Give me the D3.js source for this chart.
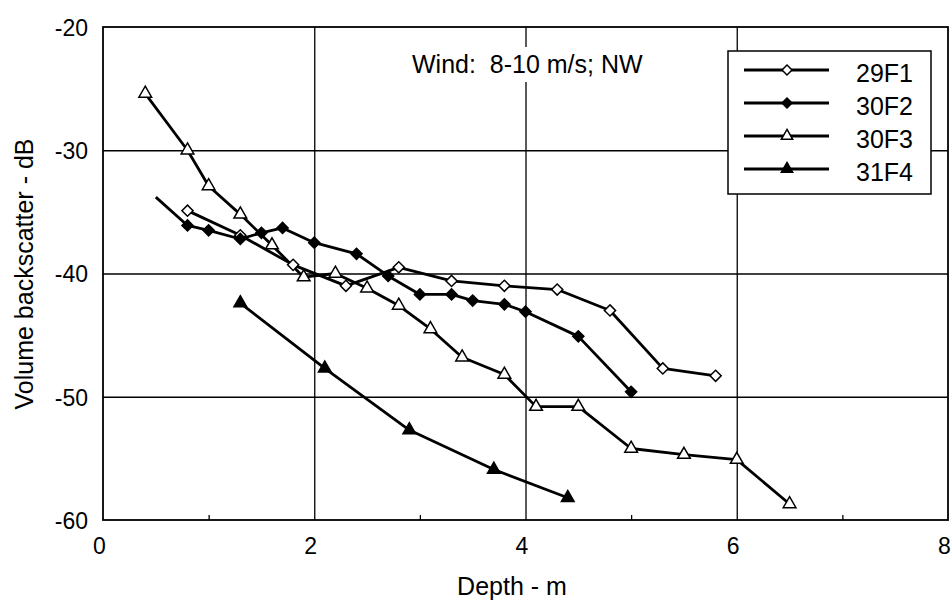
<!DOCTYPE html>
<html>
<head>
<meta charset="utf-8">
<script src="https://cdn.jsdelivr.net/npm/d3@7"></script>
<style>
  body { margin: 0; background: #fff; }
  svg text { font-family: "Liberation Sans", Arial, Helvetica, sans-serif; fill: #000; }
</style>
</head>
<body>
<div id="chart"></div>
<script>
// data (depth in m, volume backscatter in dB)
var depth29F1 = [0.8, 1.3, 1.8, 2.3, 2.8, 3.3, 3.8, 4.3, 4.8, 5.3, 5.8];
var vb29F1    = [-34.9, -36.9, -39.3, -41.0, -39.5, -40.6, -41.0, -41.3, -43.0, -47.7, -48.3];

var depth30F2 = [0.5, 0.8, 1.0, 1.3, 1.5, 1.7, 2.0, 2.4, 2.7, 3.0, 3.3, 3.5, 3.8, 4.0, 4.5, 5.0];
var vb30F2    = [-33.8, -36.1, -36.5, -37.2, -36.7, -36.3, -37.5, -38.4, -40.2, -41.7, -41.7, -42.2, -42.5, -43.1, -45.1, -49.6];

var depth30F3 = [0.4, 0.8, 1.0, 1.3, 1.6, 1.9, 2.2, 2.5, 2.8, 3.1, 3.4, 3.8, 4.1, 4.5, 5.0, 5.5, 6.0, 6.5];
var vb30F3    = [-25.4, -30.0, -32.9, -35.2, -37.7, -40.3, -40.0, -41.2, -42.6, -44.5, -46.8, -48.2, -50.8, -50.8, -54.2, -54.7, -55.1, -58.7];

var depth31F4 = [1.3, 2.1, 2.9, 3.7, 4.4];
var vb31F4    = [-42.4, -47.7, -52.7, -55.9, -58.2];

var seriesNames = ["29F1", "30F2", "30F3", "31F4"];
var xTicks = [0, 2, 4, 6, 8];
var xMinor = [1, 3, 5, 7];
var yTicks = [-60, -50, -40, -30, -20];

var W = 952, H = 603;
// plot box (pixels)
var box = { left: 103, right: 948, top: 27, bottom: 520 };

var svg = d3.select("#chart").append("svg")
    .attr("width", W)
    .attr("height", H);

var x = d3.scaleLinear().domain([0, 8]).range([box.left, box.right]);
var y = d3.scaleLinear().domain([-60, -20]).range([box.bottom, box.top]);

// grid
svg.append("g")
    .attr("transform", "translate(0," + box.bottom + ")")
    .call(d3.axisBottom(x).tickValues([2, 4, 6]).tickSize(-(box.bottom - box.top)).tickFormat(""))
    .call(g => g.select(".domain").remove())
    .selectAll("line").attr("stroke", "#000").attr("stroke-width", 1.3);

svg.append("g")
    .attr("transform", "translate(" + box.left + ",0)")
    .call(d3.axisLeft(y).tickValues([-50, -40, -30]).tickSize(-(box.right - box.left)).tickFormat(""))
    .call(g => g.select(".domain").remove())
    .selectAll("line").attr("stroke", "#000").attr("stroke-width", 1.3);

// small inward ticks on the depth axis
svg.append("g")
    .attr("transform", "translate(0," + box.bottom + ")")
    .call(d3.axisBottom(x).tickValues(xMinor).tickSize(-5).tickFormat(""))
    .call(g => g.select(".domain").remove())
    .selectAll("line").attr("stroke", "#000").attr("stroke-width", 1.3);

// tick labels
var gx = svg.append("g")
    .attr("transform", "translate(0," + box.bottom + ")")
    .call(d3.axisBottom(x).tickValues(xTicks).tickSize(0).tickPadding(18).tickFormat(d => d));
gx.select(".domain").remove();
gx.attr("font-size", 23).attr("font-family", null);
gx.selectAll("text").attr("dx", -4);

var gy = svg.append("g")
    .attr("transform", "translate(" + box.left + ",0)")
    .call(d3.axisLeft(y).tickValues(yTicks).tickSize(0).tickPadding(15).tickFormat(d => d));
gy.select(".domain").remove();
gy.attr("font-size", 23).attr("font-family", null);
gy.selectAll("text").attr("dy", "0.36em");

// frame
svg.append("rect")
    .attr("x", box.left).attr("y", box.top)
    .attr("width", box.right - box.left).attr("height", box.bottom - box.top)
    .attr("fill", "none").attr("stroke", "#000").attr("stroke-width", 1.8);

// axis titles
svg.append("text")
    .attr("x", 512).attr("y", 595)
    .attr("text-anchor", "middle")
    .attr("font-size", 25)
    .text("Depth - m");

svg.append("text")
    .attr("transform", "translate(33,274) rotate(-90)")
    .attr("text-anchor", "middle")
    .attr("font-size", 25)
    .text("Volume backscatter - dB");

// wind note, white behind it so the grid line breaks
svg.append("rect")
    .attr("x", 405).attr("y", 47).attr("width", 245).attr("height", 35)
    .attr("fill", "#fff");
svg.append("text")
    .attr("x", 412).attr("y", 73)
    .attr("font-size", 25)
    .attr("xml:space", "preserve")
    .text("Wind:  8-10 m/s; NW");

// series
var series = [
  { name: seriesNames[0], xs: depth29F1, ys: vb29F1, shape: d3.symbolSquare, rot: 45, fill: "#fff", size: 62, skip: 0 },
  { name: seriesNames[1], xs: depth30F2, ys: vb30F2, shape: d3.symbolSquare, rot: 45, fill: "#000", size: 62, skip: 1 },
  { name: seriesNames[2], xs: depth30F3, ys: vb30F3, shape: d3.symbolTriangle, rot: 0, fill: "#fff", size: 70, skip: 0 },
  { name: seriesNames[3], xs: depth31F4, ys: vb31F4, shape: d3.symbolTriangle, rot: 0, fill: "#000", size: 70, skip: 0 }
];

var line = d3.line().x(d => x(d[0])).y(d => y(d[1]));

series.forEach(function(s) {
  var pts = s.xs.map((v, i) => [v, s.ys[i]]);
  svg.append("path")
      .attr("d", line(pts))
      .attr("fill", "none")
      .attr("stroke", "#000")
      .attr("stroke-width", 2.8)
      .attr("stroke-linejoin", "round");
});

series.forEach(function(s) {
  var pts = s.xs.map((v, i) => [v, s.ys[i]]).slice(s.skip);
  svg.selectAll(null)
      .data(pts)
      .enter().append("path")
      .attr("d", d3.symbol().type(s.shape).size(s.size))
      .attr("transform", d => "translate(" + x(d[0]) + "," + y(d[1]) + ") rotate(" + s.rot + ")")
      .attr("fill", s.fill)
      .attr("stroke", "#000")
      .attr("stroke-width", 1.5);
});

// legend
var lg = svg.append("g");
lg.append("rect")
    .attr("x", 728).attr("y", 51).attr("width", 203).attr("height", 143)
    .attr("fill", "#fff").attr("stroke", "#000").attr("stroke-width", 1.5);

var rows = lg.selectAll("g.row")
    .data(series)
    .enter().append("g")
    .attr("class", "row")
    .attr("transform", (d, i) => "translate(0," + (70 + i * 33) + ")");

rows.append("line")
    .attr("x1", 744).attr("x2", 829)
    .attr("stroke", "#000").attr("stroke-width", 2.8);

rows.append("path")
    .attr("d", d => d3.symbol().type(d.shape).size(d.size * 0.8)())
    .attr("transform", d => "translate(787,0) rotate(" + d.rot + ")")
    .attr("fill", d => d.fill)
    .attr("stroke", "#000")
    .attr("stroke-width", 1.5);

rows.append("text")
    .attr("x", 856).attr("y", 0).attr("dy", "0.48em")
    .attr("font-size", 25)
    .text(d => d.name);
</script>
</body>
</html>
